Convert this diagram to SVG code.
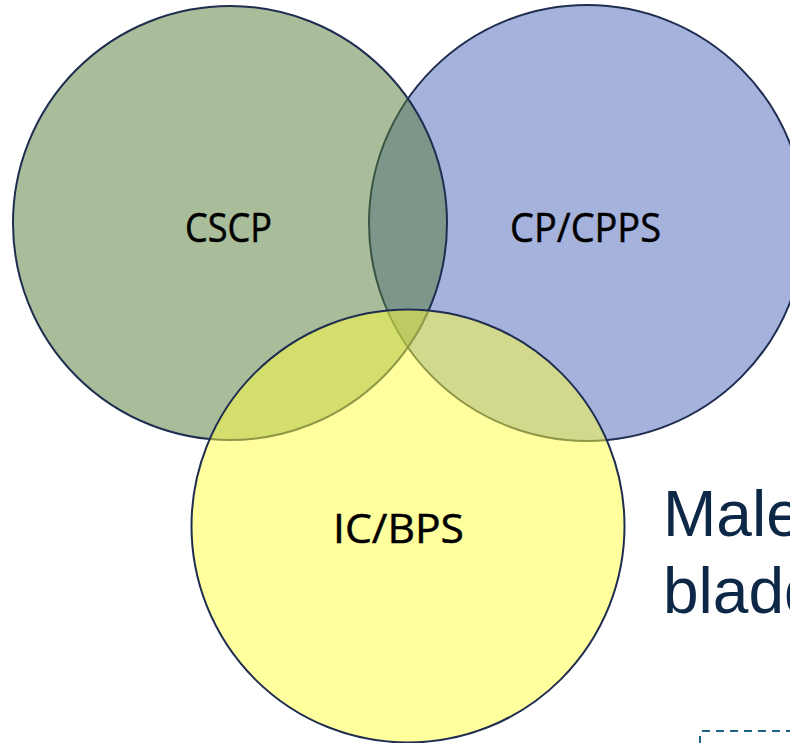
<svg xmlns="http://www.w3.org/2000/svg" width="790" height="743" viewBox="0 0 790 743">
  <style>
    .c { stroke: #1f2d50; stroke-width: 2; fill-opacity: 0.5; }
    .lbl { font-family: "Open Sans", "Noto Sans", sans-serif; font-size: 41px; fill: #000000; stroke: #000000; stroke-width: 0.5; }
    .side { font-family: "Liberation Sans", Arial, sans-serif; font-size: 64px; fill: #0d2846; }
  </style>
  <rect width="790" height="743" fill="#ffffff"/>
  <g id="node-cppps">
    <circle class="c" cx="587" cy="223" r="218" fill="#4965b9"/>
    <text class="lbl" x="510" y="242" textLength="151" lengthAdjust="spacingAndGlyphs">CP/CPPS</text>
  </g>
  <g id="node-cscp">
    <circle class="c" cx="230" cy="223" r="217" fill="#537b35"/>
    <text class="lbl" x="185" y="242" textLength="87" lengthAdjust="spacingAndGlyphs">CSCP</text>
  </g>
  <g id="node-icbps">
    <circle class="c" cx="408" cy="526" r="216.5" fill="#ffff3d"/>
    <text class="lbl" x="333" y="543" textLength="131" lengthAdjust="spacingAndGlyphs">IC/BPS</text>
  </g>
  <g id="side-text">
    <text class="side" x="663" y="536">Male</text>
    <text class="side" x="663" y="613">bladder</text>
  </g>
  <g id="connectors">
    <line x1="702" y1="731" x2="790" y2="731" stroke="#1d6383" stroke-width="2" stroke-dasharray="8 6"/>
    <line x1="700" y1="736" x2="700" y2="743" stroke="#1d6383" stroke-width="2"/>
  </g>
</svg>
